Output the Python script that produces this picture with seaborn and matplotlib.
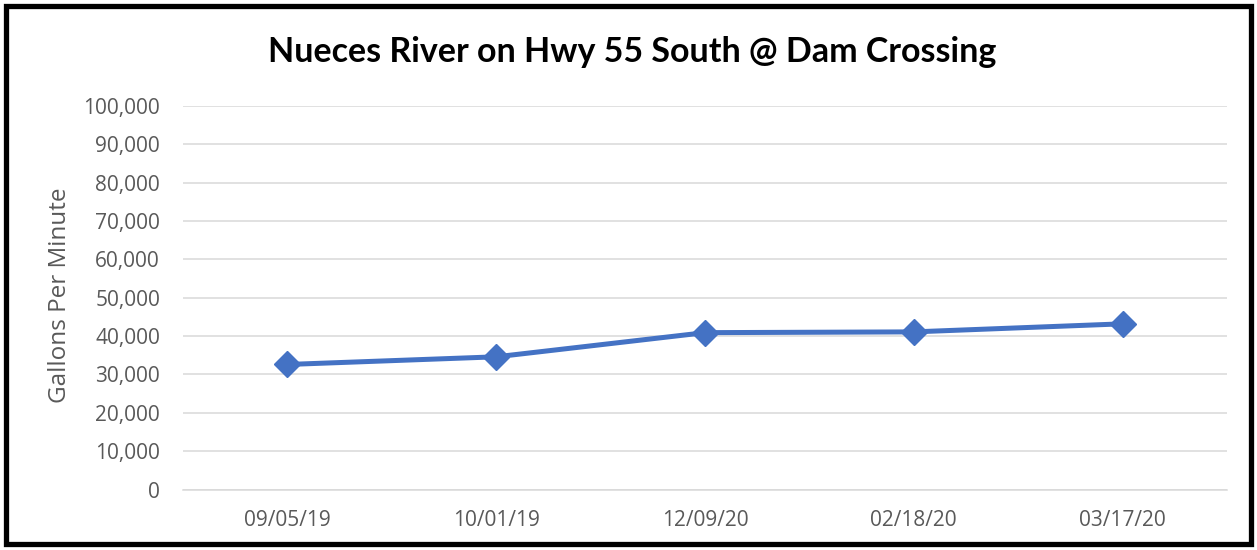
import matplotlib
matplotlib.use("Agg")
import matplotlib.pyplot as plt
import seaborn as sns
import pandas as pd
from matplotlib.patches import Rectangle
from matplotlib.ticker import FuncFormatter, MultipleLocator

dates = ["09/05/19", "10/01/19", "12/09/20", "02/18/20", "03/17/20"]
gpm = [32600, 34600, 40900, 41100, 43200]
title = "Nueces River on Hwy 55 South @ Dam Crossing"
ylabel = "Gallons Per Minute"

sns.set_theme(style="white")
plt.rcParams["font.family"] = ["Open Sans", "DejaVu Sans"]

df = pd.DataFrame({"date": dates, "gpm": gpm})

fig = plt.figure(figsize=(12.57, 5.5), dpi=100)
ax = fig.add_axes([183/1257, 60.5/550, (1227-183)/1257, (489.5-106)/550])

blue = "#4472C4"
sns.lineplot(data=df, x="date", y="gpm", sort=False, ax=ax, color=blue,
             linewidth=3.6, marker="D", markersize=13.5,
             markeredgecolor=blue, markeredgewidth=1)

ax.set_ylim(0, 100000)
ax.set_xlim(-0.5, len(dates) - 0.5)
ax.yaxis.set_major_locator(MultipleLocator(10000))
ax.yaxis.set_major_formatter(FuncFormatter(lambda v, p: f"{int(v):,}"))
ax.grid(axis="y", color="#D9D9D9", linewidth=1.1)
ax.set_axisbelow(True)
for s in ["top", "right", "left"]:
    ax.spines[s].set_visible(False)
ax.spines["bottom"].set_color("#D9D9D9")
ax.spines["bottom"].set_linewidth(1.1)

ax.set_xticks(range(len(dates)))
ax.set_xticklabels(dates)
ax.set_xticks([i - 0.5 for i in range(len(dates) + 1)], minor=True)
ax.tick_params(axis="x", which="major", length=0, pad=15, labelsize=15, labelcolor="#595959")
ax.tick_params(axis="x", which="minor", length=6, width=1.1, color="#D9D9D9", direction="out")
ax.tick_params(axis="y", length=0, pad=16.5, labelsize=15, labelcolor="#595959")

ax.set_xlabel("")
ax.set_ylabel(ylabel, fontsize=17.5, color="#595959", labelpad=10)
ax.yaxis.set_label_coords(-111/1044, 0.5 + 2.5/383.5)
fig.text(632/1257, 1 - 52/550, title, ha="center", va="center",
         fontsize=24.5, fontweight="bold", color="black", family=["Lato", "DejaVu Sans"])

fig.patches.append(Rectangle((6/1257, 6/550), 1245/1257, 538/550, transform=fig.transFigure,
                             fill=False, edgecolor="black", linewidth=3.8))

fig.savefig("out.png", dpi=100)
